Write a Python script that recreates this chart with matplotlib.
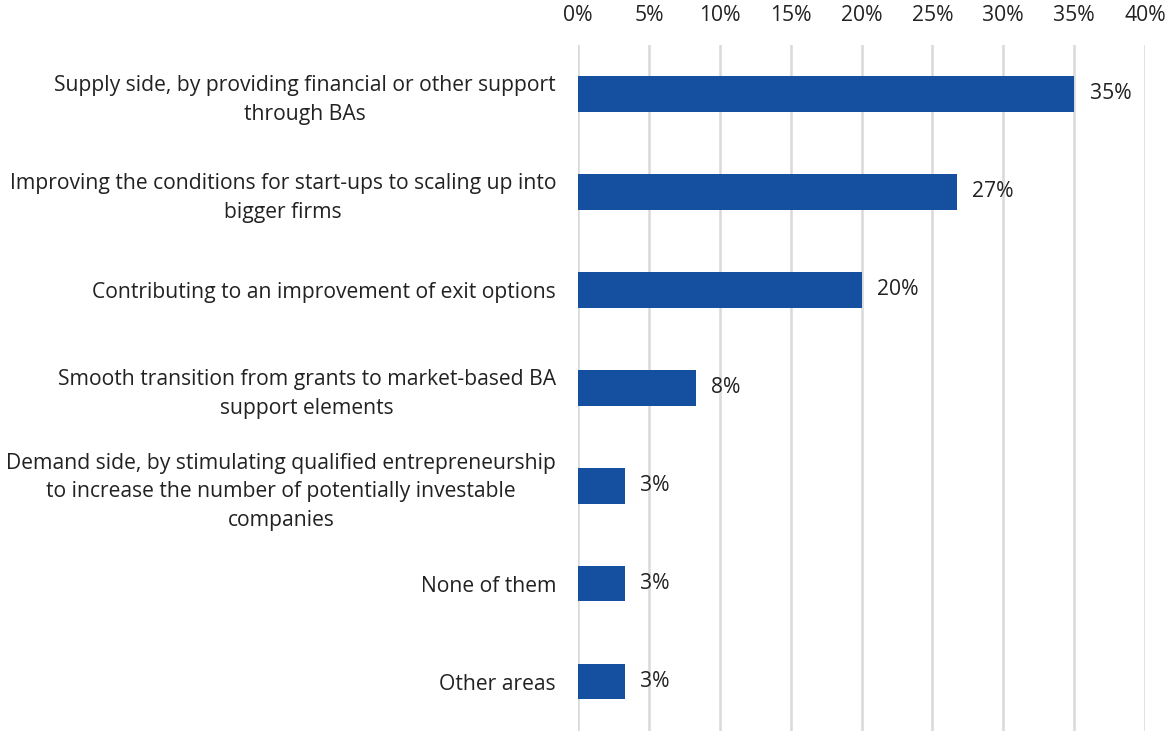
import matplotlib.pyplot as plt
import matplotlib.transforms as mtransforms
import numpy as np

categories = [
    'Supply side, by providing financial or other support\nthrough BAs',
    'Improving the conditions for start-ups to scaling up into\nbigger firms',
    'Contributing to an improvement of exit options',
    'Smooth transition from grants to market-based BA\nsupport elements',
    'Demand side, by stimulating qualified entrepreneurship\nto increase the number of potentially investable\ncompanies',
    'None of them',
    'Other areas',
]
values = [35.0, 26.7, 20.0, 8.3, 3.3, 3.3, 3.3]
xticks = [0, 5, 10, 15, 20, 25, 30, 35, 40]

plt.rcParams['font.family'] = ['Open Sans', 'DejaVu Sans']
text_color = '#222222'

fig = plt.figure(figsize=(11.72, 7.33), dpi=100)
ax = fig.add_axes([0.4932, 0.003, 0.4838, 0.9356])

y = np.arange(len(categories))
ax.barh(y, values, height=0.36, color='#1550a0', zorder=3)
for yi, v in zip(y, values):
    ax.text(v + 1.1, yi, f'{v:.0f}%', va='center', ha='left', fontsize=15.2,
            color=text_color, zorder=4)

ax.set_xlim(0, 40)
ax.set_ylim(len(categories) - 0.5, -0.5)
ax.set_xticks(xticks)
ax.set_xticklabels([f'{t}%' for t in xticks], fontsize=15.2, color=text_color)
ax.xaxis.tick_top()
ax.tick_params(axis='x', length=0, pad=14)
ax.set_yticks(y)
ax.set_yticklabels(categories, fontsize=15.2, color=text_color, ha='center',
                   linespacing=1.45)
ax.tick_params(axis='y', length=0, pad=0)
ax.grid(axis='x', color='#d9d9d9', linewidth=1.8, zorder=0)
for s in ax.spines.values():
    s.set_visible(False)

fig.canvas.draw()
# centred labels: move each so its right edge sits left of the axis
r = fig.canvas.get_renderer()
for lbl in ax.get_yticklabels():
    bb = lbl.get_window_extent(r)
    lbl.set_transform(lbl.get_transform() + mtransforms.Affine2D().translate(-bb.width / 2 - 22, 0))

plt.savefig('out.png', dpi=100)
